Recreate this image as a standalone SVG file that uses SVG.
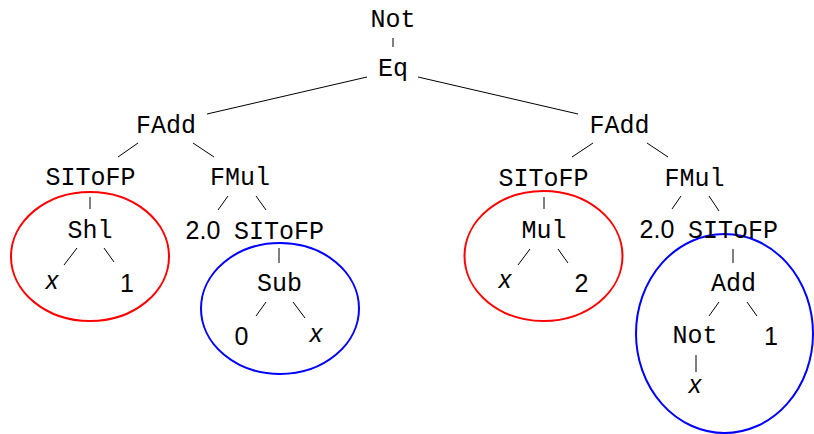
<svg xmlns="http://www.w3.org/2000/svg" width="814" height="434" viewBox="0 0 814 434">
  <style>
    .op { font-family: "Liberation Mono", "DejaVu Sans Mono", monospace; font-size: 25px; fill: #000; text-anchor: middle; }
    .num { font-family: "Liberation Sans", Arial, sans-serif; font-size: 25px; fill: #000; text-anchor: middle; }
    .var { font-family: "Liberation Sans", Arial, sans-serif; font-size: 25px; font-style: italic; fill: #000; text-anchor: middle; }
    .edge { stroke: #000; stroke-width: 1; fill: none; }
    .red { stroke: #ff0000; stroke-width: 2; fill: none; }
    .blue { stroke: #0000ff; stroke-width: 2; fill: none; }
  </style>
  <rect width="814" height="434" fill="#fff"/>

  <!-- highlighted subtrees -->
  <g id="regions">
    <ellipse class="red" cx="90" cy="256.5" rx="79" ry="64.5"/>
    <ellipse class="blue" cx="280" cy="308.5" rx="79" ry="65.5"/>
    <ellipse class="red" cx="543.5" cy="256" rx="79" ry="65"/>
    <ellipse class="blue" cx="724.5" cy="333.5" rx="88.5" ry="99.5"/>
  </g>

  <!-- tree edges -->
  <g id="connectors">
    <line class="edge" x1="393" y1="38" x2="393" y2="47"/>
    <line class="edge" x1="367" y1="77" x2="207" y2="114"/>
    <line class="edge" x1="418" y1="77" x2="578" y2="114"/>
    <!-- left FAdd -->
    <line class="edge" x1="138" y1="143" x2="118" y2="157"/>
    <line class="edge" x1="193" y1="143" x2="214" y2="157"/>
    <line class="edge" x1="90" y1="197" x2="90" y2="209"/>
    <line class="edge" x1="228" y1="196" x2="218" y2="210"/>
    <line class="edge" x1="256" y1="196" x2="266" y2="210"/>
    <line class="edge" x1="77" y1="248" x2="64" y2="265"/>
    <line class="edge" x1="104" y1="248" x2="114" y2="262"/>
    <line class="edge" x1="279" y1="248" x2="279" y2="263"/>
    <line class="edge" x1="266" y1="302" x2="256" y2="316"/>
    <line class="edge" x1="293" y1="302" x2="305" y2="318"/>
    <!-- right FAdd -->
    <line class="edge" x1="593" y1="143" x2="572" y2="157"/>
    <line class="edge" x1="647" y1="143" x2="668" y2="157"/>
    <line class="edge" x1="544" y1="197" x2="544" y2="209"/>
    <line class="edge" x1="530" y1="249" x2="518" y2="265"/>
    <line class="edge" x1="558" y1="249" x2="568" y2="263"/>
    <line class="edge" x1="681" y1="196" x2="672" y2="209"/>
    <line class="edge" x1="709" y1="196" x2="719" y2="211"/>
    <line class="edge" x1="733" y1="249" x2="733" y2="263"/>
    <line class="edge" x1="719" y1="302" x2="709" y2="316"/>
    <line class="edge" x1="747" y1="302" x2="757" y2="316"/>
    <line class="edge" x1="696" y1="355" x2="696" y2="372"/>
  </g>

  <g id="n-not-root"><text class="op" x="393" y="27">Not</text></g>
  <g id="n-eq"><text class="op" x="393" y="76">Eq</text></g>

  <g id="n-fadd-l"><text class="op" x="166" y="133">FAdd</text></g>
  <g id="n-sitofp-l1"><text class="op" x="90.5" y="185">SIToFP</text></g>
  <g id="n-fmul-l"><text class="op" x="240" y="185">FMul</text></g>
  <g id="n-shl"><text class="op" x="90" y="238">Shl</text></g>
  <g id="n-x-l1"><text class="var" x="52" y="289">x</text></g>
  <g id="n-one-l"><text class="num" x="127" y="292">1</text></g>
  <g id="n-two0-l"><text class="num" x="203" y="239">2.0</text></g>
  <g id="n-sitofp-l2"><text class="op" x="279" y="239">SIToFP</text></g>
  <g id="n-sub"><text class="op" x="279.5" y="291">Sub</text></g>
  <g id="n-zero"><text class="num" x="241.5" y="345">0</text></g>
  <g id="n-x-l2"><text class="var" x="316" y="342">x</text></g>

  <g id="n-fadd-r"><text class="op" x="619.5" y="133">FAdd</text></g>
  <g id="n-sitofp-r1"><text class="op" x="543.5" y="186">SIToFP</text></g>
  <g id="n-fmul-r"><text class="op" x="694.5" y="186">FMul</text></g>
  <g id="n-mul"><text class="op" x="544" y="238">Mul</text></g>
  <g id="n-x-r1"><text class="var" x="505" y="288">x</text></g>
  <g id="n-two"><text class="num" x="581.5" y="292">2</text></g>
  <g id="n-two0-r"><text class="num" x="657" y="238">2.0</text></g>
  <g id="n-sitofp-r2"><text class="op" x="733" y="238">SIToFP</text></g>
  <g id="n-add"><text class="op" x="733.5" y="291">Add</text></g>
  <g id="n-not-inner"><text class="op" x="695" y="343">Not</text></g>
  <g id="n-one-r"><text class="num" x="771" y="345">1</text></g>
  <g id="n-x-r2"><text class="var" x="695" y="393">x</text></g>
</svg>
